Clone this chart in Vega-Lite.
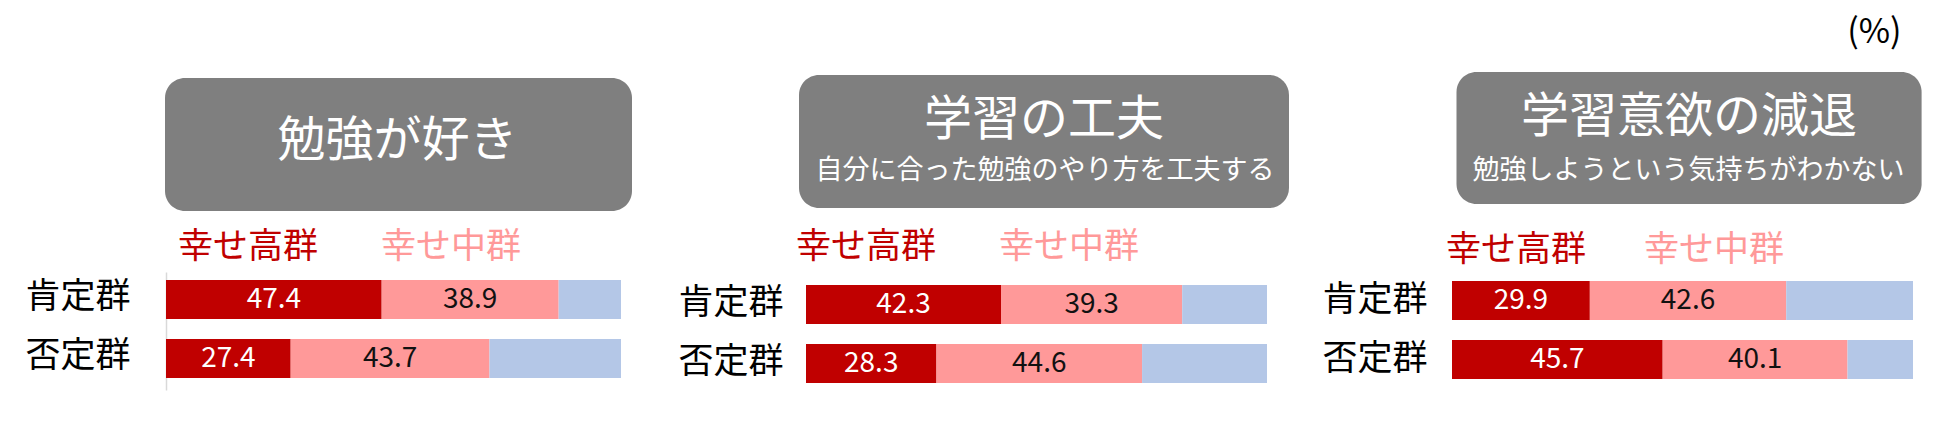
{
  "$schema": "https://vega.github.io/schema/vega-lite/v6.json",
  "background": "white",
  "padding": {"left": 24, "top": 16, "right": 5, "bottom": 5},
  "autosize": {"type": "pad"},
  "config": {"view": {"stroke": null}, "font": "Noto Sans CJK JP"},
  "title": {"text": "(%)", "anchor": "end", "frame": "bounds", "font": "Noto Sans CJK JP", "fontSize": 34, "fontWeight": "normal", "color": "#000000", "offset": 22, "dx": -20},
  "datasets": {
    "bars": [
      {"panel": 1, "row": "肯定群", "group": "幸せ高群", "value": 47.4},
      {"panel": 1, "row": "肯定群", "group": "幸せ中群", "value": 38.9},
      {"panel": 1, "row": "肯定群", "group": "幸せ低群", "value": 13.7},
      {"panel": 1, "row": "否定群", "group": "幸せ高群", "value": 27.4},
      {"panel": 1, "row": "否定群", "group": "幸せ中群", "value": 43.7},
      {"panel": 1, "row": "否定群", "group": "幸せ低群", "value": 28.9},
      {"panel": 2, "row": "肯定群", "group": "幸せ高群", "value": 42.3},
      {"panel": 2, "row": "肯定群", "group": "幸せ中群", "value": 39.3},
      {"panel": 2, "row": "肯定群", "group": "幸せ低群", "value": 18.4},
      {"panel": 2, "row": "否定群", "group": "幸せ高群", "value": 28.3},
      {"panel": 2, "row": "否定群", "group": "幸せ中群", "value": 44.6},
      {"panel": 2, "row": "否定群", "group": "幸せ低群", "value": 27.1},
      {"panel": 3, "row": "肯定群", "group": "幸せ高群", "value": 29.9},
      {"panel": 3, "row": "肯定群", "group": "幸せ中群", "value": 42.6},
      {"panel": 3, "row": "肯定群", "group": "幸せ低群", "value": 27.5},
      {"panel": 3, "row": "否定群", "group": "幸せ高群", "value": 45.7},
      {"panel": 3, "row": "否定群", "group": "幸せ中群", "value": 40.1},
      {"panel": 3, "row": "否定群", "group": "幸せ低群", "value": 14.2}
    ],
    "headers": [
      {"panel": 1, "main": "勉強が好き", "sub": ""},
      {"panel": 2, "main": "学習の工夫", "sub": "自分に合った勉強のやり方を工夫する"},
      {"panel": 3, "main": "学習意欲の減退", "sub": "勉強しようという気持ちがわかない"}
    ]
  },
  "columns": 3,
  "spacing": {"row": 64, "column": 185},
  "bounds": "flush",
  "align": "each",
  "resolve": {
    "scale": {"color": "independent", "x": "independent", "y": "independent"},
    "legend": {"color": "independent"}
  },
  "concat": [
    {
      "width": 455, "height": 133,
      "data": {"name": "headers"},
      "transform": [{"filter": "datum.panel === 1"}],
      "layer": [
        {"mark": {"type": "rect", "color": "#7F7F7F", "cornerRadius": 20, "xOffset": -1, "x2Offset": 11, "yOffset": 3, "y2Offset": 3},
         "encoding": {"x": {"value": 0}, "x2": {"value": "width"}, "y": {"value": 0}, "y2": {"value": "height"}}},
        {"mark": {"type": "text", "color": "white", "font": "Noto Sans CJK JP", "fontSize": 48, "dx": 4, "dy": 0},
         "encoding": {"text": {"field": "main"}}}
      ]
    },
    {
      "width": 461, "height": 133,
      "data": {"name": "headers"},
      "transform": [{"filter": "datum.panel === 2"}],
      "layer": [
        {"mark": {"type": "rect", "color": "#7F7F7F", "cornerRadius": 20, "xOffset": -7, "x2Offset": 22},
         "encoding": {"x": {"value": 0}, "x2": {"value": "width"}, "y": {"value": 0}, "y2": {"value": "height"}}},
        {"mark": {"type": "text", "color": "white", "font": "Noto Sans CJK JP", "fontSize": 48, "dx": 7.5, "dy": -20.5},
         "encoding": {"text": {"field": "main"}}},
        {"mark": {"type": "text", "color": "white", "font": "Noto Sans CJK JP", "fontSize": 27, "dx": 8.5, "dy": 29.5},
         "encoding": {"text": {"field": "sub"}}}
      ]
    },
    {
      "width": 461, "height": 133,
      "data": {"name": "headers"},
      "transform": [{"filter": "datum.panel === 3"}],
      "layer": [
        {"mark": {"type": "rect", "color": "#7F7F7F", "cornerRadius": 20, "xOffset": 4.5, "x2Offset": 8.6, "yOffset": -3, "y2Offset": -4},
         "encoding": {"x": {"value": 0}, "x2": {"value": "width"}, "y": {"value": 0}, "y2": {"value": "height"}}},
        {"mark": {"type": "text", "color": "white", "font": "Noto Sans CJK JP", "fontSize": 48, "dx": 6.5, "dy": -23.5},
         "encoding": {"text": {"field": "main"}}},
        {"mark": {"type": "text", "color": "white", "font": "Noto Sans CJK JP", "fontSize": 27, "dx": 6, "dy": 29.5},
         "encoding": {"text": {"field": "sub"}}}
      ]
    },
    {
      "width": 455, "height": 118,
      "data": {"name": "bars"},
      "transform": [
        {"filter": "datum.panel === 1"},
        {"calculate": "indexof(['幸せ高群','幸せ中群','幸せ低群'], datum.group)", "as": "ord"},
        {"stack": "value", "groupby": ["row"], "sort": [{"field": "ord", "order": "ascending"}], "as": ["v0", "v1"]},
        {"calculate": "(datum.v0 + datum.v1) / 2", "as": "vmid"}
      ],
      "encoding": {
        "y": {"field": "row", "type": "nominal", "sort": ["肯定群", "否定群"],
              "scale": {"paddingInner": 0.34, "paddingOuter": 0.17},
              "axis": {"title": null, "ticks": false, "domain": true, "domainColor": "#D9D9D9", "domainWidth": 1.5, "labelFont": "Noto Sans CJK JP", "labelFontSize": 35, "labelColor": "#000000", "labelPadding": 36, "labelOffset": -5}}
      },
      "layer": [
        {"mark": {"type": "bar", "yOffset": -2},
         "encoding": {
           "x": {"field": "v0", "type": "quantitative", "scale": {"domain": [0, 100]}, "axis": null},
           "x2": {"field": "v1"},
           "color": {"field": "group", "type": "nominal",
                     "scale": {"domain": ["幸せ高群", "幸せ中群", "幸せ低群"], "range": ["#C00000", "#FF9999", "#B4C7E7"]},
                     "legend": {"values": ["幸せ高群", "幸せ中群"], "orient": "none", "legendX": -23, "legendY": -43, "direction": "horizontal", "title": null, "symbolSize": 0, "symbolOpacity": 0, "symbolStrokeWidth": 0, "labelOffset": 0, "columnPadding": 27, "padding": 0, "labelFont": "Noto Sans CJK JP", "labelFontSize": 35, "labelLimit": 400,
                                "encode": {"labels": {"update": {"fill": {"signal": "datum.value === '幸せ高群' ? '#C00000' : '#FF9999'"}}}}}}
         }},
        {"transform": [{"filter": "datum.group !== '幸せ低群'"}],
         "mark": {"type": "text", "font": "Noto Sans CJK JP", "fontSize": 28, "yOffset": -2},
         "encoding": {
           "x": {"field": "vmid", "type": "quantitative", "scale": {"domain": [0, 100]}},
           "text": {"field": "value", "type": "quantitative", "format": ".1f"},
           "color": {"condition": {"test": "datum.group === '幸せ高群'", "value": "white"}, "value": "#111111"}
         }}
      ]
    },
    {
      "width": 461, "height": 118,
      "data": {"name": "bars"},
      "transform": [
        {"filter": "datum.panel === 2"},
        {"calculate": "indexof(['幸せ高群','幸せ中群','幸せ低群'], datum.group)", "as": "ord"},
        {"stack": "value", "groupby": ["row"], "sort": [{"field": "ord", "order": "ascending"}], "as": ["v0", "v1"]},
        {"calculate": "(datum.v0 + datum.v1) / 2", "as": "vmid"}
      ],
      "encoding": {
        "y": {"field": "row", "type": "nominal", "sort": ["肯定群", "否定群"],
              "scale": {"paddingInner": 0.34, "paddingOuter": 0.17},
              "axis": {"title": null, "ticks": false, "domain": false, "labelFont": "Noto Sans CJK JP", "labelFontSize": 35, "labelColor": "#000000", "labelPadding": 23, "labelOffset": 1}}
      },
      "layer": [
        {"mark": {"type": "bar", "yOffset": 3},
         "encoding": {
           "x": {"field": "v0", "type": "quantitative", "scale": {"domain": [0, 100]}, "axis": null},
           "x2": {"field": "v1"},
           "color": {"field": "group", "type": "nominal",
                     "scale": {"domain": ["幸せ高群", "幸せ中群", "幸せ低群"], "range": ["#C00000", "#FF9999", "#B4C7E7"]},
                     "legend": {"values": ["幸せ高群", "幸せ中群"], "orient": "none", "legendX": -45, "legendY": -43, "direction": "horizontal", "title": null, "symbolSize": 0, "symbolOpacity": 0, "symbolStrokeWidth": 0, "labelOffset": 0, "columnPadding": 27, "padding": 0, "labelFont": "Noto Sans CJK JP", "labelFontSize": 35, "labelLimit": 400,
                                "encode": {"labels": {"update": {"fill": {"signal": "datum.value === '幸せ高群' ? '#C00000' : '#FF9999'"}}}}}}
         }},
        {"transform": [{"filter": "datum.group !== '幸せ低群'"}],
         "mark": {"type": "text", "font": "Noto Sans CJK JP", "fontSize": 28, "yOffset": 3},
         "encoding": {
           "x": {"field": "vmid", "type": "quantitative", "scale": {"domain": [0, 100]}},
           "text": {"field": "value", "type": "quantitative", "format": ".1f"},
           "color": {"condition": {"test": "datum.group === '幸せ高群'", "value": "white"}, "value": "#111111"}
         }}
      ]
    },
    {
      "width": 461, "height": 118,
      "data": {"name": "bars"},
      "transform": [
        {"filter": "datum.panel === 3"},
        {"calculate": "indexof(['幸せ高群','幸せ中群','幸せ低群'], datum.group)", "as": "ord"},
        {"stack": "value", "groupby": ["row"], "sort": [{"field": "ord", "order": "ascending"}], "as": ["v0", "v1"]},
        {"calculate": "(datum.v0 + datum.v1) / 2", "as": "vmid"}
      ],
      "encoding": {
        "y": {"field": "row", "type": "nominal", "sort": ["肯定群", "否定群"],
              "scale": {"paddingInner": 0.34, "paddingOuter": 0.17},
              "axis": {"title": null, "ticks": false, "domain": false, "labelFont": "Noto Sans CJK JP", "labelFontSize": 35, "labelColor": "#000000", "labelPadding": 25, "labelOffset": -1.5}}
      },
      "layer": [
        {"mark": {"type": "bar", "yOffset": -1},
         "encoding": {
           "x": {"field": "v0", "type": "quantitative", "scale": {"domain": [0, 100]}, "axis": null},
           "x2": {"field": "v1"},
           "color": {"field": "group", "type": "nominal",
                     "scale": {"domain": ["幸せ高群", "幸せ中群", "幸せ低群"], "range": ["#C00000", "#FF9999", "#B4C7E7"]},
                     "legend": {"values": ["幸せ高群", "幸せ中群"], "orient": "none", "legendX": -41, "legendY": -40, "direction": "horizontal", "title": null, "symbolSize": 0, "symbolOpacity": 0, "symbolStrokeWidth": 0, "labelOffset": 0, "columnPadding": 22, "padding": 0, "labelFont": "Noto Sans CJK JP", "labelFontSize": 35, "labelLimit": 400,
                                "encode": {"labels": {"update": {"fill": {"signal": "datum.value === '幸せ高群' ? '#C00000' : '#FF9999'"}}}}}}
         }},
        {"transform": [{"filter": "datum.group !== '幸せ低群'"}],
         "mark": {"type": "text", "font": "Noto Sans CJK JP", "fontSize": 28, "yOffset": -1},
         "encoding": {
           "x": {"field": "vmid", "type": "quantitative", "scale": {"domain": [0, 100]}},
           "text": {"field": "value", "type": "quantitative", "format": ".1f"},
           "color": {"condition": {"test": "datum.group === '幸せ高群'", "value": "white"}, "value": "#111111"}
         }}
      ]
    }
  ]
}
